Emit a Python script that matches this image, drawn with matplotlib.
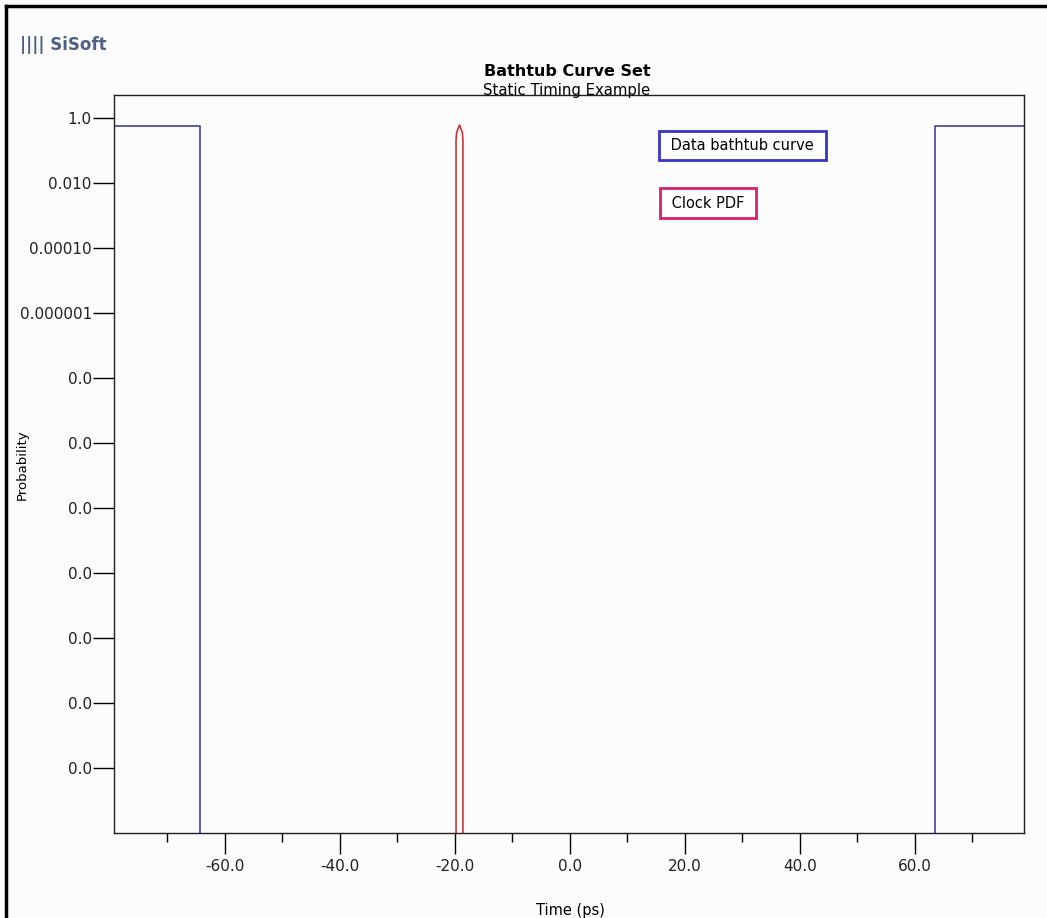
import numpy as np
import matplotlib
matplotlib.use("Agg")
import matplotlib.pyplot as plt
from matplotlib.lines import Line2D
from matplotlib.ticker import FixedLocator, FixedFormatter

# data bathtub curve (two walls of the eye)
bath_left_x = [-80.0, -64.3, -64.3]
bath_left_y = [0.55, 0.55, 1e-25]
bath_right_x = [63.5, 63.5, 80.0]
bath_right_y = [1e-25, 0.55, 0.55]

# clock PDF, narrow spike near -19 ps
clock_x = [-19.8, -19.8, -19.7, -19.2, -18.7, -18.6, -18.6]
clock_y = [1e-25, 0.2, 0.35, 0.6, 0.35, 0.2, 1e-25]

ytick_vals = [1.0, 1e-2, 1e-4, 1e-6, 1e-8, 1e-10, 1e-12, 1e-14, 1e-16, 1e-18, 1e-20]
ytick_labels = ["1.0", "0.010", "0.00010", "0.000001", "0.0", "0.0", "0.0",
                "0.0", "0.0", "0.0", "0.0"]
xtick_major = [-60, -40, -20, 0, 20, 40, 60]
xtick_labels = ["-60.0", "-40.0", "-20.0", "0.0", "20.0", "40.0", "60.0"]
xtick_minor = [-70, -50, -30, -10, 10, 30, 50, 70]

fig = plt.figure(figsize=(10.47, 9.18), dpi=100)
fig.patch.set_facecolor("#fcfcfc")
ax = fig.add_axes([114/1047, 85/918, 910/1047, 738/918])
ax.set_facecolor("#fcfcfc")

ax.plot(bath_left_x, bath_left_y, color="#4040a8", lw=1.2)
ax.plot(bath_right_x, bath_right_y, color="#4040a8", lw=1.2)
ax.plot(clock_x, clock_y, color="#c83838", lw=1.2)

ax.set_yscale("log")
ax.set_xlim(-79.3, 79.0)
ax.set_ylim(1e-22, 10**0.7)

ax.yaxis.set_major_locator(FixedLocator(ytick_vals))
ax.yaxis.set_major_formatter(FixedFormatter(ytick_labels))
ax.yaxis.set_minor_locator(FixedLocator([]))
ax.xaxis.set_major_locator(FixedLocator(xtick_major))
ax.xaxis.set_major_formatter(FixedFormatter(xtick_labels))
ax.xaxis.set_minor_locator(FixedLocator(xtick_minor))

ax.tick_params(axis="y", which="major", length=15, width=1, pad=1,
               labelsize=11, colors="black", labelcolor="#202020")
ax.tick_params(axis="x", which="major", length=6.5, width=1, pad=12,
               labelsize=11, labelcolor="#202020")
ax.tick_params(axis="x", which="minor", length=6.5, width=1)

# longer marks at 0 and +-50
for t in ax.xaxis.get_major_ticks():
    if t.get_loc() == 0:
        t.tick1line.set_markersize(15)
for t in ax.xaxis.get_minor_ticks():
    if abs(t.get_loc()) == 50:
        t.tick1line.set_markersize(11)

for s in ax.spines.values():
    s.set_color("#202020")
    s.set_linewidth(1)

# legend boxes
ax.text((666 - 114) / 910, 0.9316, " Data bathtub curve ",
        transform=ax.transAxes, ha="left", va="center", fontsize=10.5,
        bbox=dict(boxstyle="square,pad=0.5", fc="white", ec="#3535c8", lw=2))
ax.text((667 - 114) / 910, 0.8535, " Clock PDF ", transform=ax.transAxes,
        ha="left", va="center", fontsize=10.5,
        bbox=dict(boxstyle="square,pad=0.5", fc="white", ec="#d8206c", lw=2))

fig.text(567/1047, 1 - 71/918, "Bathtub Curve Set", ha="center", va="center",
         fontsize=11.5, fontweight="bold")
fig.text(567/1047, 1 - 90/918, "Static Timing Example", ha="center",
         va="center", fontsize=10.7)
fig.text(22/1047, 1 - 465/918, "Probability", rotation=90, ha="center",
         va="center", fontsize=9.5)
fig.text(570/1047, 1 - 910/918, "Time (ps)", ha="center", va="center",
         fontsize=10.5)

# logo
fig.text(20/1047, 1 - 45/918, "|||| SiSoft", ha="left", va="center",
         fontsize=12, fontweight="bold", color="#4b5f88")

# frame lines (left and top only) around the picture
fig.add_artist(Line2D([6/1047, 6/1047], [0, 1 - 6/918], transform=fig.transFigure,
                      color="black", lw=2.5))
fig.add_artist(Line2D([6/1047, 1], [1 - 6/918, 1 - 6/918], transform=fig.transFigure,
                      color="black", lw=2.5))

fig.savefig("out.png", dpi=100, facecolor=fig.get_facecolor())
